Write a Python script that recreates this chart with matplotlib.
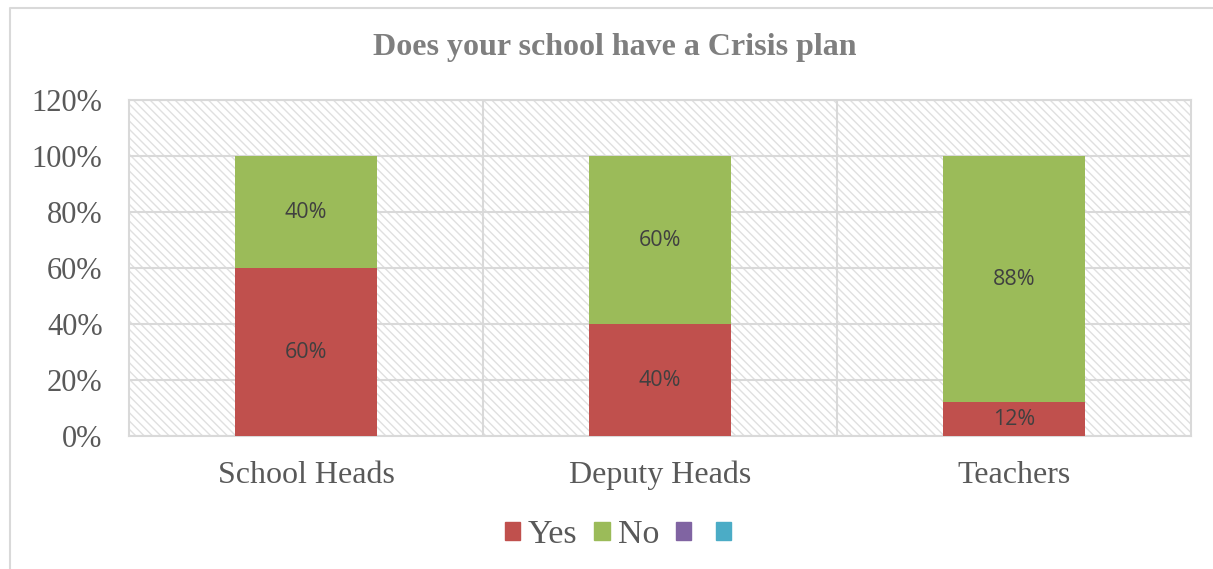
import matplotlib.pyplot as plt
from matplotlib.patches import Rectangle, Patch
from matplotlib.lines import Line2D
import numpy as np

categories = ['School Heads', 'Deputy Heads', 'Teachers']
yes = [0.60, 0.40, 0.12]
no = [0.40, 0.60, 0.88]
yes_labels = ['60%', '40%', '12%']
no_labels = ['40%', '60%', '88%']
yticks = [0, 0.2, 0.4, 0.6, 0.8, 1.0, 1.2]

red = '#C0504D'
green = '#9BBB59'
purple = '#8064A2'
cyan = '#4BACC6'
grid = '#D9D9D9'

fig = plt.figure(figsize=(12.13, 5.69), dpi=100)
ax = fig.add_axes([129 / 1213, 1 - 436 / 569, 1062 / 1213, 336 / 569])

# outer chart border (only top and left edges show in the picture)
fig.lines.append(Line2D([10 / 1213, 10 / 1213, 1], [0, 1 - 8 / 569, 1 - 8 / 569],
                        transform=fig.transFigure, color=grid, linewidth=1.5))

# hatched plot area
plt.rcParams['hatch.color'] = '#E0E0E0'
plt.rcParams['hatch.linewidth'] = 1.0
ax.add_patch(Rectangle((0, 0), 1, 1, transform=ax.transAxes, facecolor='white',
                       hatch='\\\\\\\\', edgecolor='#E0E0E0', linewidth=0, zorder=0))

x = np.arange(len(categories))
w = 0.4
ax.bar(x, yes, w, color=red, zorder=3)
ax.bar(x, no, w, bottom=yes, color=green, zorder=3)

lab_font = dict(family='Open Sans', fontsize=15.5, color='#404040', ha='center', va='center', zorder=4)
for i in range(len(categories)):
    ax.text(x[i], yes[i] / 2, yes_labels[i], **lab_font)
    ax.text(x[i], yes[i] + no[i] / 2, no_labels[i], **lab_font)

ax.set_xlim(-0.5, 2.5)
ax.set_ylim(0, 1.2)
ax.set_yticks(yticks)
ax.set_yticklabels([f'{int(round(t * 100))}%' for t in yticks],
                   family='Liberation Serif', fontsize=22, color='#595959')
ax.set_xticks(x)
ax.set_xticklabels(categories, family='Liberation Serif', fontsize=23, color='#595959')
ax.tick_params(axis='y', length=0, pad=19)
ax.tick_params(axis='x', length=0, pad=18)

for t in yticks:
    ax.axhline(t, color=grid, linewidth=1.5, zorder=1)
for b in [0.5, 1.5]:
    ax.axvline(b, color=grid, linewidth=1.5, zorder=1)
for s in ax.spines.values():
    s.set_color(grid)
    s.set_linewidth(1.5)

fig.text(615 / 1213, 1 - 47 / 569, 'Does your school have a Crisis plan',
         family='Liberation Serif', fontweight='bold', fontsize=23,
         color='#7F7F7F', ha='center', va='center')

handles = [Patch(color=red), Patch(color=green), Patch(color=purple), Patch(color=cyan)]
fig.legend(handles, ['Yes', 'No', '', ''], loc='center', bbox_to_anchor=(622 / 1213, 1 - 535 / 569),
           ncol=4, frameon=False, handlelength=0.45, handleheight=0.45,
           handletextpad=0.23, columnspacing=0.5,
           prop={'family': 'Liberation Serif', 'size': 24.5})
for t in fig.legends[0].get_texts():
    t.set_color('#595959')

fig.savefig('out.png', dpi=100)
